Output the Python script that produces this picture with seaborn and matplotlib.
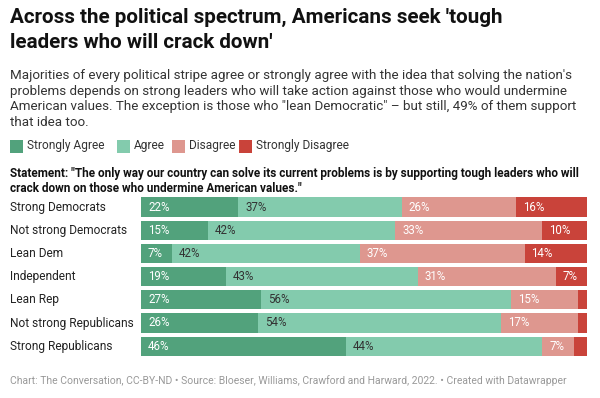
import matplotlib
matplotlib.use("Agg")
import matplotlib.pyplot as plt
import seaborn as sns
import pandas as pd
import numpy as np
from matplotlib.patches import Rectangle
from matplotlib.transforms import blended_transform_factory

groups = ["Strong Democrats", "Not strong Democrats", "Lean Dem", "Independent",
          "Lean Rep", "Not strong Republicans", "Strong Republicans"]
strongly_agree = [22, 15, 7, 19, 27, 26, 46]
agree = [37, 42, 42, 43, 56, 54, 44]
disagree = [26, 33, 37, 31, 15, 17, 7]
strongly_disagree = [16, 10, 14, 7, 2, 2, 3]
categories = ["Strongly Agree", "Agree", "Disagree", "Strongly Disagree"]
colors = ["#52a27c", "#83cbad", "#de978f", "#c9433a"]
text_colors = ["white", "#333333", "white", "white"]

sns.set_theme(style="white")
plt.rcParams["font.family"] = ["Roboto", "DejaVu Sans"]

vals = np.array([strongly_agree, agree, disagree, strongly_disagree], dtype=float)
totals = vals.sum(axis=0)
pct = vals / totals * 100
cum = np.cumsum(pct, axis=0)

fig = plt.figure(figsize=(6, 3.98), dpi=100)
W, H = 600, 398
ax_left, ax_right = 141, 587
top_px, bot_px = 195.4, 357.8
ax = fig.add_axes([ax_left / W, 1 - bot_px / H, (ax_right - ax_left) / W, (bot_px - top_px) / H])

for i in range(3, -1, -1):
    df = pd.DataFrame({"group": groups, "value": cum[i]})
    sns.barplot(data=df, x="value", y="group", order=groups, color=colors[i],
                orient="h", width=0.82, ax=ax, saturation=1, edgecolor="none")

ax.set_xlim(0, 100)
ax.set_ylim(6.5, -0.5)
ax.axis("off")

# segment labels
for i in range(4):
    for j in range(len(groups)):
        v = vals[i, j]
        if v < 5:
            continue
        start = cum[i, j] - pct[i, j]
        ax.annotate(f"{int(v)}%", xy=(start, j), xytext=(5, 0), textcoords="offset points",
                    ha="left", va="center", fontsize=8.3, color=text_colors[i])

# category labels
trans = blended_transform_factory(fig.transFigure, ax.transData)
for j, g in enumerate(groups):
    ax.text(10 / W, j, g, transform=trans, ha="left", va="center", fontsize=8.6, color="#222222")

# title
fig.text(10 / W, 1 - 8 / H, "Across the political spectrum, Americans seek 'tough\nleaders who will crack down'",
         ha="left", va="top", fontsize=14.9, fontweight="bold", color="#111111", linespacing=1.42)
sub = ("Majorities of every political stripe agree or strongly agree with the idea that solving the nation's\n"
       "problems depends on strong leaders who will take action against those who would undermine\n"
       "American values. The exception is those who \"lean Democratic\" \u2013 but still, 49% of them support\n"
       "that idea too.")
fig.text(10 / W, 1 - 69 / H, sub, ha="left", va="top", fontsize=9.6, color="#333333", linespacing=1.27)

# legend
lx = [10, 117, 172, 239]
for i, c in enumerate(categories):
    fig.patches.append(Rectangle((lx[i] / W, 1 - 152.5 / H), 13 / W, 13 / H, transform=fig.transFigure,
                                 facecolor=colors[i], edgecolor="none"))
    fig.text((lx[i] + 17) / W, 1 - 146 / H, c, ha="left", va="center", fontsize=8.6, color="#333333")

fig.text(10 / W, 1 - 167 / H,
         "Statement: \"The only way our country can solve its current problems is by supporting tough leaders who will\n"
         "crack down on those who undermine American values.\"",
         ha="left", va="top", fontsize=8.45, fontweight="bold", color="#111111", linespacing=1.22)

fig.text(10 / W, 1 - 381 / H,
         "Chart: The Conversation, CC-BY-ND \u2022 Source: Bloeser, Williams, Crawford and Harward, 2022. \u2022 Created with Datawrapper",
         ha="left", va="center", fontsize=7.5, color="#999999")

fig.savefig("out.png", dpi=100, facecolor="white")
